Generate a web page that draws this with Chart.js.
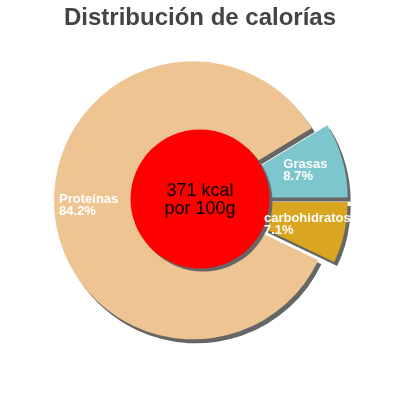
<!DOCTYPE html>
<html><head><meta charset="utf-8">
<script src="https://cdn.jsdelivr.net/npm/chart.js@4.4.0/dist/chart.umd.min.js"></script>
<style>html,body{margin:0;padding:0;background:#fff}#wrap{width:400px;height:400px}</style>
</head><body><div id="wrap"><canvas id="c" width="400" height="400"></canvas></div>
<script>
const titleText = "Distribución de calorías";
const categories = ["Proteínas", "Grasas", "carbohidratos"];
const percentages = [84.2, 8.7, 7.1];
const centerLines = ["371 kcal", "por 100g"];

const sliceColors = ["#eec592", "#7ec6ce", "#daa520"];
const explode = [7, 9, 9];
// label placement: fraction along slice angle (t) and of radius (f)
const labelT = [0.504, 0.323, 0.805];
const labelF = [0.964, 0.576, 0.424];

const explodePlugin = {
  id: 'explode',
  beforeDatasetsDraw(chart) {
    const meta = chart.getDatasetMeta(0);
    meta.data.forEach((arc, i) => {
      if (arc._wrapped) return;
      const orig = arc.draw;
      arc.draw = function (ctx, area) {
        const mid = (this.startAngle + this.endAngle) / 2;
        ctx.save();
        ctx.translate(Math.cos(mid) * explode[i], Math.sin(mid) * explode[i]);
        orig.call(this, ctx, area);
        ctx.restore();
      };
      arc._wrapped = true;
    });
    const ctx = chart.ctx;
    ctx.save();
    ctx.shadowColor = '#666666';
    ctx.shadowOffsetX = 3;
    ctx.shadowOffsetY = 4;
    ctx.shadowBlur = 0;
  },
  afterDatasetsDraw(chart) {
    const ctx = chart.ctx;
    ctx.restore();
    const meta = chart.getDatasetMeta(0);
    const a0 = meta.data[0];
    const cx = a0.x, cy = a0.y, R = a0.outerRadius;
    // red center circle with shadow
    ctx.save();
    ctx.shadowColor = '#666666';
    ctx.shadowOffsetX = 3;
    ctx.shadowOffsetY = 3;
    ctx.beginPath();
    ctx.arc(cx, cy - 1, R * 0.5, 0, Math.PI * 2);
    ctx.fillStyle = '#ff0000';
    ctx.fill();
    ctx.restore();
    // center text
    ctx.save();
    ctx.fillStyle = '#000';
    ctx.font = '18px "Liberation Sans", Arial, sans-serif';
    ctx.textAlign = 'center';
    ctx.textBaseline = 'alphabetic';
    ctx.fillText(centerLines[0], cx, cy - 4);
    ctx.fillText(centerLines[1], cx, cy + 14);
    ctx.restore();
    // slice labels
    ctx.save();
    ctx.fillStyle = '#ffffff';
    ctx.font = 'bold 13px "Liberation Sans", Arial, sans-serif';
    ctx.textAlign = 'left';
    ctx.textBaseline = 'alphabetic';
    meta.data.forEach((arc, i) => {
      const p = arc.getProps(['x', 'y', 'startAngle', 'endAngle', 'outerRadius']);
      const mid = (p.startAngle + p.endAngle) / 2;
      const ox = p.x + Math.cos(mid) * explode[i];
      const oy = p.y + Math.sin(mid) * explode[i];
      const ang = p.startAngle + labelT[i] * (p.endAngle - p.startAngle);
      const lx = ox + Math.cos(ang) * p.outerRadius * labelF[i];
      const ly = oy + Math.sin(ang) * p.outerRadius * labelF[i];
      ctx.fillText(categories[i], lx, ly - 1);
      ctx.fillText(percentages[i].toFixed(1) + '%', lx, ly + 11);
    });
    ctx.restore();
  }
};

const startRotation = 90 + percentages[2] * 3.6;

new Chart(document.getElementById('c'), {
  type: 'pie',
  data: {
    labels: categories,
    datasets: [{
      data: percentages,
      backgroundColor: sliceColors,
      borderWidth: 0,
      radius: 139
    }]
  },
  options: {
    responsive: false,
    animation: false,
    events: [],
    rotation: startRotation,
    layout: { padding: { left: 0, right: 0, top: 0, bottom: 32.8 } },
    plugins: {
      legend: { display: false },
      tooltip: { enabled: false },
      title: {
        display: true,
        text: titleText,
        color: '#444444',
        font: { family: '"Liberation Sans", Arial, sans-serif', size: 24, weight: 'bold', lineHeight: 1.2 },
        padding: { top: 4, bottom: 0 }
      }
    }
  },
  plugins: [explodePlugin]
});
</script></body></html>
